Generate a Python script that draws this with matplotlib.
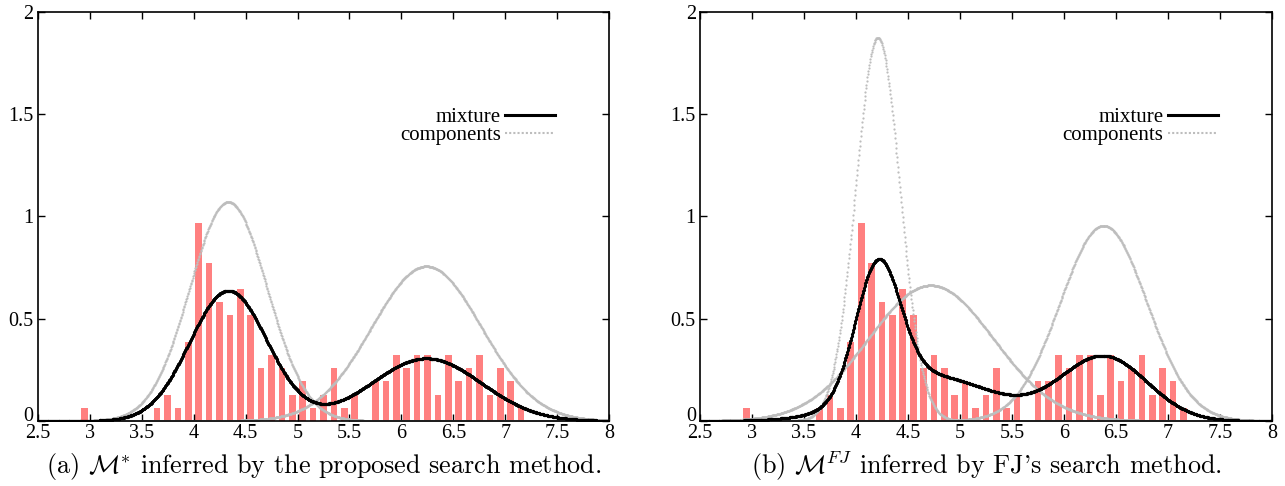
import numpy as np
import matplotlib.pyplot as plt
from matplotlib.lines import Line2D
from matplotlib.transforms import ScaledTranslation

plt.rcParams['font.family'] = ['Liberation Serif', 'DejaVu Serif']
plt.rcParams['mathtext.fontset'] = 'cm'

# histogram of the data (bin width 0.1), counts per bin centre
bin_centers = [2.95, 3.65, 3.75, 3.85, 3.95, 4.05, 4.15, 4.25, 4.35, 4.45,
               4.55, 4.65, 4.75, 4.85, 4.95, 5.05, 5.15, 5.25, 5.35, 5.45,
               5.55, 5.75, 5.85, 5.95, 6.05, 6.15, 6.25, 6.35, 6.45, 6.55,
               6.65, 6.75, 6.85, 6.95, 7.05, 7.15]
bin_counts = [1, 1, 2, 1, 6, 15, 12, 9, 8, 10,
              8, 4, 5, 4, 2, 3, 1, 2, 4, 1,
              2, 3, 3, 5, 4, 5, 5, 2, 5, 3,
              4, 5, 2, 4, 3, 1]
bin_width = 0.1

# gaussian mixture estimates
means_a = [4.335, 6.24]
sds_a = [0.373, 0.528]
weights_a = [0.595, 0.405]

means_b = [4.21, 4.72, 6.38]
sds_b = [0.213, 0.602, 0.418]
weights_b = [0.34, 0.33, 0.33]

x_ticks = [2.5, 3, 3.5, 4, 4.5, 5, 5.5, 6, 6.5, 7, 7.5, 8]
y_ticks = [0, 0.5, 1, 1.5, 2]

captions = [r'(a) $\mathcal{M}^{*}$ inferred by the proposed search method.',
            r'(b) $\mathcal{M}^{FJ}$ inferred by FJ' + "'" + 's search method.']

BAR_COLOR = '#ff8080'
GRAY = '#bdbdbd'


def gauss(x, m, s):
    return np.exp(-0.5 * ((x - m) / s) ** 2) / (s * np.sqrt(2 * np.pi))


fig = plt.figure(figsize=(12.85, 4.86), dpi=100)
axes = [fig.add_axes([0.0292, 0.1337, 0.4451, 0.8426]),
        fig.add_axes([0.5447, 0.1337, 0.4451, 0.8426])]

density = np.array(bin_counts) / (sum(bin_counts) * bin_width)
xs = np.linspace(2.5, 8, 1200)

for ax, means, sds, weights, cap in zip(
        axes, [means_a, means_b], [sds_a, sds_b], [weights_a, weights_b],
        captions):
    ax.bar(bin_centers, density, width=0.065, color=BAR_COLOR, zorder=1)

    mix = np.zeros_like(xs)
    for m, s, w in zip(means, sds, weights):
        comp = gauss(xs, m, s)
        mix += w * comp
        ax.plot(xs, comp, ls='none', marker='o', ms=1.6, mew=0,
                color=GRAY, zorder=2)
    ax.plot(xs, mix, ls='none', marker='o', ms=2.3, mew=0,
            color='black', zorder=3)

    ax.set_xlim(2.5, 8)
    ax.set_ylim(0, 2)
    ax.set_xticks(x_ticks, labels=[f'{t:g}' for t in x_ticks])
    ax.set_yticks(y_ticks, labels=[f'{t:g}' for t in y_ticks])
    ax.tick_params(direction='in', length=5, width=1, top=True, right=True,
                   labelsize=14.5)
    ax.tick_params(axis='x', pad=2.5)
    ax.tick_params(axis='y', pad=3)
    for sp in ax.spines.values():
        sp.set_linewidth(1.2)

    # lift the "0" label a little so it does not sit on "2.5"
    lab0 = ax.yaxis.get_major_ticks()[0].label1
    lab0.set_transform(lab0.get_transform()
                       + ScaledTranslation(0, 5 / 72, fig.dpi_scale_trans))

    handles = [Line2D([], [], color='black', lw=2.2),
               Line2D([], [], color=GRAY, lw=1.5, ls=(0, (1, 1)))]
    leg = ax.legend(handles, ['mixture', 'components'], loc='upper right',
                    bbox_to_anchor=(0.905, 0.765), frameon=False,
                    markerfirst=False, fontsize=15, handlelength=2.4,
                    handletextpad=0.2, labelspacing=-0.1, borderpad=0,
                    borderaxespad=0)
    for col in leg._legend_handle_box.get_children():
        col.align = 'right'

    bb = ax.get_position()
    fig.text(bb.x0 + bb.width / 2, 0.041, cap, ha='center', va='center',
             fontsize=18.8, family='cmr10')

fig.savefig('out.png', dpi=100)
